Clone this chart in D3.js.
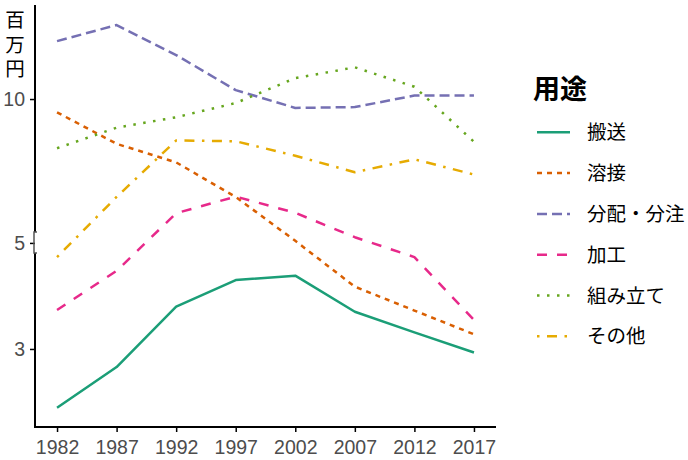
<!DOCTYPE html>
<html>
<head>
<meta charset="utf-8">
<script src="https://cdn.jsdelivr.net/npm/d3@7"></script>
<style>
  body { margin: 0; background: #fff; }
  text { font-family: "Noto Sans CJK JP", "Liberation Sans", sans-serif; }
</style>
</head>
<body>
<div id="graph"></div>
<script>
// données (millions de yens)
const years = [1982, 1987, 1992, 1997, 2002, 2007, 2012, 2017]
const hanso = [2.26, 2.75, 3.68, 4.18, 4.27, 3.59, 3.25, 2.95]
const yosetsu = [9.38, 8.06, 7.37, 6.24, 5.05, 4.05, 3.61, 3.22]
const bunpai = [13.22, 14.28, 12.36, 10.44, 9.58, 9.62, 10.17, 10.17]
const kako = [3.62, 4.37, 5.77, 6.25, 5.78, 5.14, 4.67, 3.45]
const kumitate = [7.89, 8.71, 9.16, 9.81, 11.06, 11.65, 10.61, 8.14]
const sonota = [4.67, 6.24, 8.19, 8.16, 7.61, 7.03, 7.48, 6.95]
const seriesNames = ['搬送', '溶接', '分配・分注', '加工', '組み立て', 'その他']
const yTicks = [3, 5, 10]

const allSeries = [hanso, yosetsu, bunpai, kako, kumitate, sonota]
const colors = ['#1b9e77', '#d95f02', '#7570b3', '#e7298a', '#66a61e', '#e6ab02']
const lw = 2.5
const dashes = [null, [2, 2], [4, 2], [4, 4], [1, 3], [1, 3, 4, 3]]
    .map(d => d ? d.map(v => v * lw).join(',') : null)

const width = 688, height = 460
const svg = d3.select('#graph').append('svg')
    .attr('width', width)
    .attr('height', height)

const mLeft = 35, mRight = 496, mTop = 5, mBottom = 427

let x = d3.scaleLinear()
    .domain([1980.15, 2018.85])
    .range([mLeft, mRight])

let y = d3.scaleLog()
    .domain([2.06, 15.73])
    .range([mBottom, mTop])

// lignes
const line = d3.line()
    .x((d, i) => x(years[i]))
    .y(d => y(d))

svg.append('g')
    .selectAll('path')
    .data(allSeries)
    .join('path')
    .attr('d', d => line(d))
    .attr('fill', 'none')
    .attr('stroke', (d, i) => colors[i])
    .attr('stroke-width', lw)
    .attr('stroke-dasharray', (d, i) => dashes[i])
    .attr('stroke-linejoin', 'round')

// axe X
const xAxis = svg.append('g')
    .attr('transform', 'translate(0,' + mBottom + ')')
    .call(d3.axisBottom(x).tickValues(years).tickFormat(d3.format('d')).tickSize(5).tickPadding(8))
xAxis.select('.domain').attr('stroke', '#000').attr('stroke-width', 2)
    .attr('d', 'M' + (mLeft - 1) + ',0H' + mRight)
xAxis.selectAll('.tick line').attr('stroke', '#000').attr('stroke-width', 1.5)
xAxis.selectAll('.tick text')
    .attr('font-size', 19.5)
    .attr('fill', '#4d4d4d')
    .style('font-family', '"Liberation Sans", Arial, sans-serif')

// axe Y
const yAxis = svg.append('g')
    .attr('transform', 'translate(' + mLeft + ',0)')
    .call(d3.axisLeft(y).tickValues(yTicks).tickFormat(d3.format('d')).tickSize(5).tickPadding(5))
yAxis.select('.domain').remove()
yAxis.selectAll('.tick line').attr('stroke', '#000').attr('stroke-width', 1.5)
yAxis.selectAll('.tick text')
    .attr('font-size', 19.5)
    .attr('fill', '#4d4d4d')
    .style('font-family', '"Liberation Sans", Arial, sans-serif')

// ligne de l'axe Y avec coupure autour de 5
const brk0 = y(5) - 11, brk1 = y(5) + 10
svg.append('path')
    .attr('d', 'M' + mLeft + ',' + mTop + 'V' + brk0 + 'M' + mLeft + ',' + brk1 + 'V' + (mBottom + 1))
    .attr('stroke', '#000')
    .attr('stroke-width', 2)
svg.append('path')
    .attr('d', 'M' + (mLeft + 2) + ',' + brk0 + 'H' + (mLeft - 1) + 'V' + brk1 + 'H' + (mLeft + 2))
    .attr('fill', 'none')
    .attr('stroke', '#555')
    .attr('stroke-width', 1.5)

// titre Y (vertical, un seul texte)
svg.append('text')
    .attr('x', 15)
    .attr('y', 10)
    .attr('font-size', 19.5)
    .attr('fill', '#000')
    .style('writing-mode', 'vertical-rl')
    .style('text-orientation', 'upright')
    .style('letter-spacing', '5px')
    .text('百万円')

// légende
const legend = svg.append('g')
legend.append('text')
    .attr('x', 533)
    .attr('y', 99)
    .attr('font-size', 27)
    .attr('font-weight', 'bold')
    .text('用途')

const keys = legend.selectAll('g.key')
    .data(seriesNames)
    .join('g')
    .attr('class', 'key')
    .attr('transform', (d, i) => 'translate(0,' + (132.3 + i * 40.8) + ')')

keys.append('line')
    .attr('x1', 537)
    .attr('x2', 570)
    .attr('stroke', (d, i) => colors[i])
    .attr('stroke-width', lw)
    .attr('stroke-dasharray', (d, i) => dashes[i])

keys.append('text')
    .attr('x', 587)
    .attr('y', 7)
    .attr('font-size', 19.5)
    .attr('fill', '#000')
    .text(d => d)
</script>
</body>
</html>
